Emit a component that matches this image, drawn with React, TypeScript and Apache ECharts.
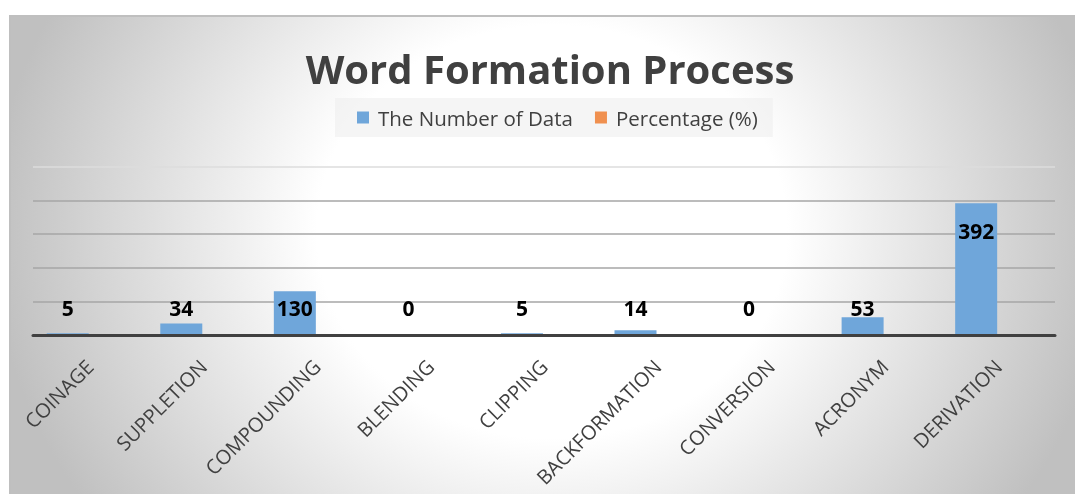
import React, { useEffect, useRef } from "react";
import * as echarts from "echarts";

const titleText = "Word Formation Process";
const categories = [
  "COINAGE",
  "SUPPLETION",
  "COMPOUNDING",
  "BLENDING",
  "CLIPPING",
  "BACKFORMATION",
  "CONVERSION",
  "ACRONYM",
  "DERIVATION",
];
const numberOfData = [5, 34, 130, 0, 5, 14, 0, 53, 392];
const percentageData: number[] = [];
const seriesNames = ["The Number of Data", "Percentage (%)"];

const FONT = "'Open Sans', 'DejaVu Sans', sans-serif";

export default function App() {
  const ref = useRef<HTMLDivElement>(null);
  useEffect(() => {
    if (!ref.current) return;
    const chart = echarts.init(ref.current, null, { renderer: "svg" });
    chart.setOption({
      animation: false,
      backgroundColor: "transparent",
      graphic: [
        {
          type: "text",
          x: 539,
          y: 51,
          style: {
            text: titleText,
            fill: "#404040",
            font: `bold 40px ${FONT}`,
            align: "center",
            verticalAlign: "middle",
          },
        },
      ],
      legend: {
        left: 324,
        top: 81,
        padding: [9, 15, 9, 22],
        backgroundColor: "rgba(238,238,238,0.6)",
        itemWidth: 12,
        itemHeight: 12,
        itemGap: 22,
        icon: "rect",
        data: seriesNames,
        textStyle: {
          fontFamily: FONT,
          fontSize: 20.5,
          color: "#404040",
          padding: [0, 0, 0, 4],
        },
      },
      grid: { left: 22, right: 20, top: 150, bottom: 159, containLabel: false },
      xAxis: {
        type: "category",
        data: categories,
        z: 5,
        axisLine: { show: true, lineStyle: { color: "#404040", width: 3 } },
        axisTick: { show: false },
        axisLabel: {
          rotate: 45,
          interval: 0,
          margin: 28,
          fontFamily: FONT,
          fontSize: 20,
          color: "#404040",
        },
      },
      yAxis: {
        type: "value",
        min: 0,
        max: 500,
        interval: 100,
        axisLabel: { show: false },
        axisLine: { show: false },
        axisTick: { show: false },
        splitLine: {
          lineStyle: {
            color: ["#a6a6a6", "#a6a6a6", "#a6a6a6", "#a6a6a6", "#a6a6a6", "#dcdcdc"],
            width: 1.5,
          },
        },
      },
      series: [
        {
          name: seriesNames[0],
          type: "bar",
          barWidth: 42,
          barGap: "5%",
          itemStyle: { color: "#6fa6da" },
          label: {
            show: true,
            fontFamily: FONT,
            fontWeight: "bold",
            fontSize: 21,
            color: "#000000",
          },
          data: numberOfData.map((v) => ({
            value: v,
            label:
              v > 300
                ? { position: "insideTop", distance: 17 }
                : { position: "insideBottom", distance: 17 },
          })),
        },
        {
          name: seriesNames[1],
          type: "bar",
          barWidth: 42,
          itemStyle: { color: "#f0904f" },
          data: percentageData,
        },
      ],
    });
    return () => chart.dispose();
  }, []);

  return (
    <div
      style={{
        position: "fixed",
        left: 9,
        top: 15,
        width: 1066,
        height: 479,
        boxSizing: "border-box",
        borderTop: "2px solid #bfbfbf",
        borderLeft: "2px solid #bfbfbf",
        background:
          "radial-gradient(ellipse 560px 492px at 541px 215px, #ffffff 0%, #ffffff 42%, #c0c0c0 100%)",
      }}
    >
      <div ref={ref} style={{ width: 1064, height: 477 }} />
    </div>
  );
}
